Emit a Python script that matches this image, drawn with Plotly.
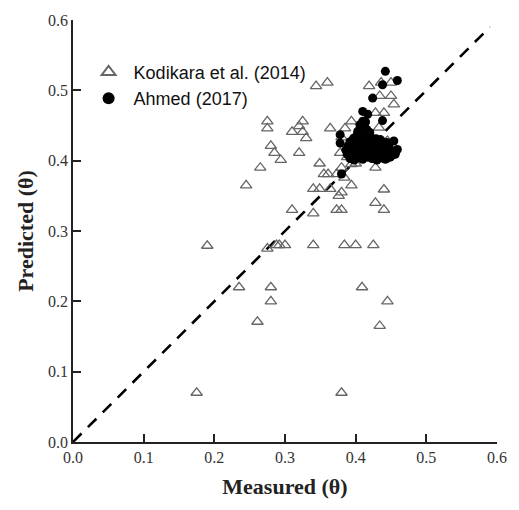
import plotly.graph_objects as go

# Kodikara et al. (2014) – open triangles
kod_x = [0.175, 0.380, 0.190, 0.235, 0.261, 0.280, 0.280, 0.275, 0.288, 0.300,
         0.340, 0.384, 0.400, 0.425, 0.409, 0.445, 0.434, 0.245, 0.265, 0.280,
         0.285, 0.294, 0.275, 0.275, 0.310, 0.320, 0.325, 0.320, 0.325, 0.330,
         0.310, 0.340, 0.340, 0.349, 0.349, 0.355, 0.361, 0.364, 0.373, 0.376,
         0.380, 0.373, 0.380, 0.380, 0.384, 0.394, 0.364, 0.344, 0.360, 0.394,
         0.385, 0.380, 0.378, 0.394, 0.419, 0.434, 0.450, 0.454, 0.450, 0.436,
         0.428, 0.440, 0.433, 0.428, 0.440, 0.428, 0.440, 0.440, 0.445, 0.417,
         0.292, 0.400, 0.388]
kod_y = [0.070, 0.070, 0.279, 0.220, 0.171, 0.220, 0.200, 0.275, 0.280, 0.280,
         0.280, 0.280, 0.280, 0.280, 0.220, 0.200, 0.165, 0.365, 0.390, 0.421,
         0.411, 0.401, 0.456, 0.446, 0.441, 0.411, 0.456, 0.449, 0.441, 0.432,
         0.330, 0.325, 0.360, 0.396, 0.360, 0.381, 0.381, 0.360, 0.381, 0.350,
         0.355, 0.330, 0.330, 0.390, 0.376, 0.365, 0.446, 0.506, 0.511, 0.456,
         0.446, 0.433, 0.411, 0.395, 0.506, 0.492, 0.492, 0.480, 0.511, 0.511,
         0.468, 0.468, 0.447, 0.390, 0.359, 0.340, 0.330, 0.402, 0.428, 0.404,
         0.280, 0.396, 0.405]

# Ahmed (2017) – filled circles
ahmed_x = [0.392, 0.398, 0.404, 0.410, 0.417, 0.423, 0.430, 0.436, 0.442, 0.449,
           0.388, 0.395, 0.401, 0.407, 0.413, 0.419, 0.426, 0.432, 0.439, 0.446, 0.452,
           0.386, 0.393, 0.399, 0.405, 0.411, 0.418, 0.424, 0.430, 0.437, 0.444, 0.451, 0.457,
           0.389, 0.396, 0.402, 0.408, 0.414, 0.421, 0.427, 0.433, 0.440, 0.447,
           0.392, 0.399, 0.405, 0.412, 0.418, 0.425, 0.431, 0.438, 0.444,
           0.397, 0.404, 0.410, 0.416, 0.423, 0.429, 0.435,
           0.402, 0.406, 0.409, 0.412, 0.416, 0.420, 0.414, 0.418,
           0.442, 0.459, 0.438, 0.424, 0.438, 0.410, 0.417, 0.378, 0.378,
           0.454, 0.459, 0.456, 0.380, 0.403, 0.406, 0.410]
ahmed_y = [0.403, 0.401, 0.404, 0.402, 0.405, 0.403, 0.401, 0.404, 0.402, 0.405,
           0.409, 0.410, 0.408, 0.411, 0.409, 0.410, 0.408, 0.411, 0.409, 0.410, 0.408,
           0.415, 0.416, 0.414, 0.417, 0.415, 0.416, 0.414, 0.417, 0.415, 0.416, 0.414, 0.413,
           0.421, 0.422, 0.420, 0.423, 0.421, 0.422, 0.420, 0.423, 0.421, 0.420,
           0.427, 0.428, 0.426, 0.429, 0.427, 0.428, 0.426, 0.427, 0.426,
           0.432, 0.433, 0.431, 0.434, 0.432, 0.431, 0.430,
           0.437, 0.441, 0.446, 0.450, 0.444, 0.440, 0.455, 0.436,
           0.527, 0.514, 0.508, 0.489, 0.457, 0.470, 0.466, 0.437, 0.425,
           0.428, 0.416, 0.409, 0.381, 0.442, 0.451, 0.456]

line_x = [0.0, 0.59]
line_y = [0.0, 0.59]

tick_vals = [0.0, 0.1, 0.2, 0.3, 0.4, 0.5, 0.6]
tick_text = ["0.0", "0.1", "0.2", "0.3", "0.4", "0.5", "0.6"]

serif = "Liberation Serif, Times New Roman, serif"

fig = go.Figure()
fig.add_trace(go.Scatter(x=line_x, y=line_y, mode="lines", showlegend=False,
                         line=dict(color="black", width=2.6, dash="12px,9px")))
fig.add_trace(go.Scatter(x=kod_x, y=kod_y, mode="markers", name="Kodikara et al. (2014)",
                         marker=dict(symbol="triangle-up-open", size=10, color="#666666",
                                     line=dict(width=1.3, color="#666666"))))
fig.add_trace(go.Scatter(x=ahmed_x, y=ahmed_y, mode="markers", name="Ahmed (2017)",
                         marker=dict(symbol="circle", size=9, color="black")))

axis_common = dict(range=[0, 0.6], tickvals=tick_vals, ticktext=tick_text,
                   showgrid=False, zeroline=False, showline=True, linecolor="#222",
                   linewidth=1.5, ticks="inside", ticklen=8, tickwidth=1.5, tickcolor="#222",
                   tickfont=dict(family=serif, size=16, color="#333"),
                   mirror=False)

fig.update_layout(
    width=519, height=510,
    margin=dict(l=73, r=12, t=19, b=68),
    plot_bgcolor="white", paper_bgcolor="white",
    xaxis=dict(**axis_common,
               title=dict(text="<b>Measured (θ)</b>", standoff=14,
                          font=dict(family=serif, size=22, color="#222"))),
    yaxis=dict(**axis_common,
               title=dict(text="<b>Predicted (θ)</b>", standoff=8,
                          font=dict(family=serif, size=22, color="#222"))),
    legend=dict(x=0.025, y=0.92, xanchor="left", yanchor="top",
                bgcolor="rgba(255,255,255,0)", borderwidth=0, tracegroupgap=0,
                font=dict(family="Liberation Sans, Arial, sans-serif", size=18, color="#111"),
                itemsizing="constant", itemwidth=40),
)

fig.write_html("out.html")
